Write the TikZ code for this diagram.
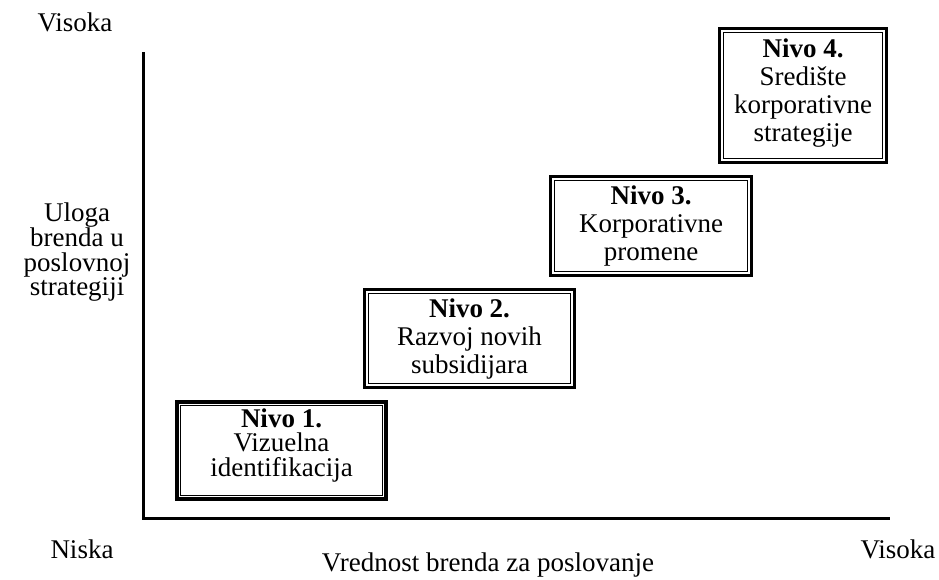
\documentclass[tikz,border=0pt]{standalone}
\usepackage{fontspec}
\setmainfont{Liberation Serif}
\usetikzlibrary{positioning}

\begin{document}
\begin{tikzpicture}[x=1pt,y=-1pt,font=\fontsize{27}{28}\selectfont,
  level/.style={draw,line width=3.5pt,align=center,inner sep=0pt},
  axis/.style={line width=3pt},
  lbl/.style={align=center},
  tight/.style={font=\fontsize{27}{24.5}\selectfont}]
  \useasboundingbox (0,0) rectangle (939,579);
  % axes
  \coordinate (ytop) at (143,52); \coordinate (orig) at (143,518);
  \coordinate (xend) at (890,518);
  \draw[axis] (ytop) -- (orig) -- (xend);
  \node[lbl] (yhi) at (75,22) {Visoka};
  \node[lbl,tight] (ylab) at (77,252) {Uloga\\brenda u\\poslovnoj\\strategiji};
  \node[lbl] (xlo) at (82,549) {Niska};
  \node[lbl] (xhi) at (898,549) {Visoka};
  \node[lbl] (xlab) at (488,565) {Vrednost brenda za poslovanje};
  % levels
  \node[level,tight,minimum width=209,minimum height=97] (lv1) at (281.5,450.5)
    {\textbf{Nivo 1.}\\Vizuelna\\identifikacija\rule[-16pt]{0pt}{1pt}};
  \node[level,minimum width=210,minimum height=98] (lv2) at (469.5,338.5)
    {\textbf{Nivo 2.}\\Razvoj novih\\subsidijara};
  \node[level,minimum width=201,minimum height=99] (lv3) at (651,226)
    {\textbf{Nivo 3.}\\Korporativne\\promene};
  \node[level,minimum width=167,minimum height=134] (lv4) at (803,95.5)
    {\textbf{Nivo 4.}\\Središte\\korporativne\\strategije\rule[-11pt]{0pt}{1pt}};
  \foreach \b in {lv1,lv2,lv3,lv4}
    \draw[line width=1pt] ([shift={(5.5,5.5)}]\b.north west) rectangle
      ([shift={(-5.5,-5.5)}]\b.south east);
\end{tikzpicture}
\end{document}
